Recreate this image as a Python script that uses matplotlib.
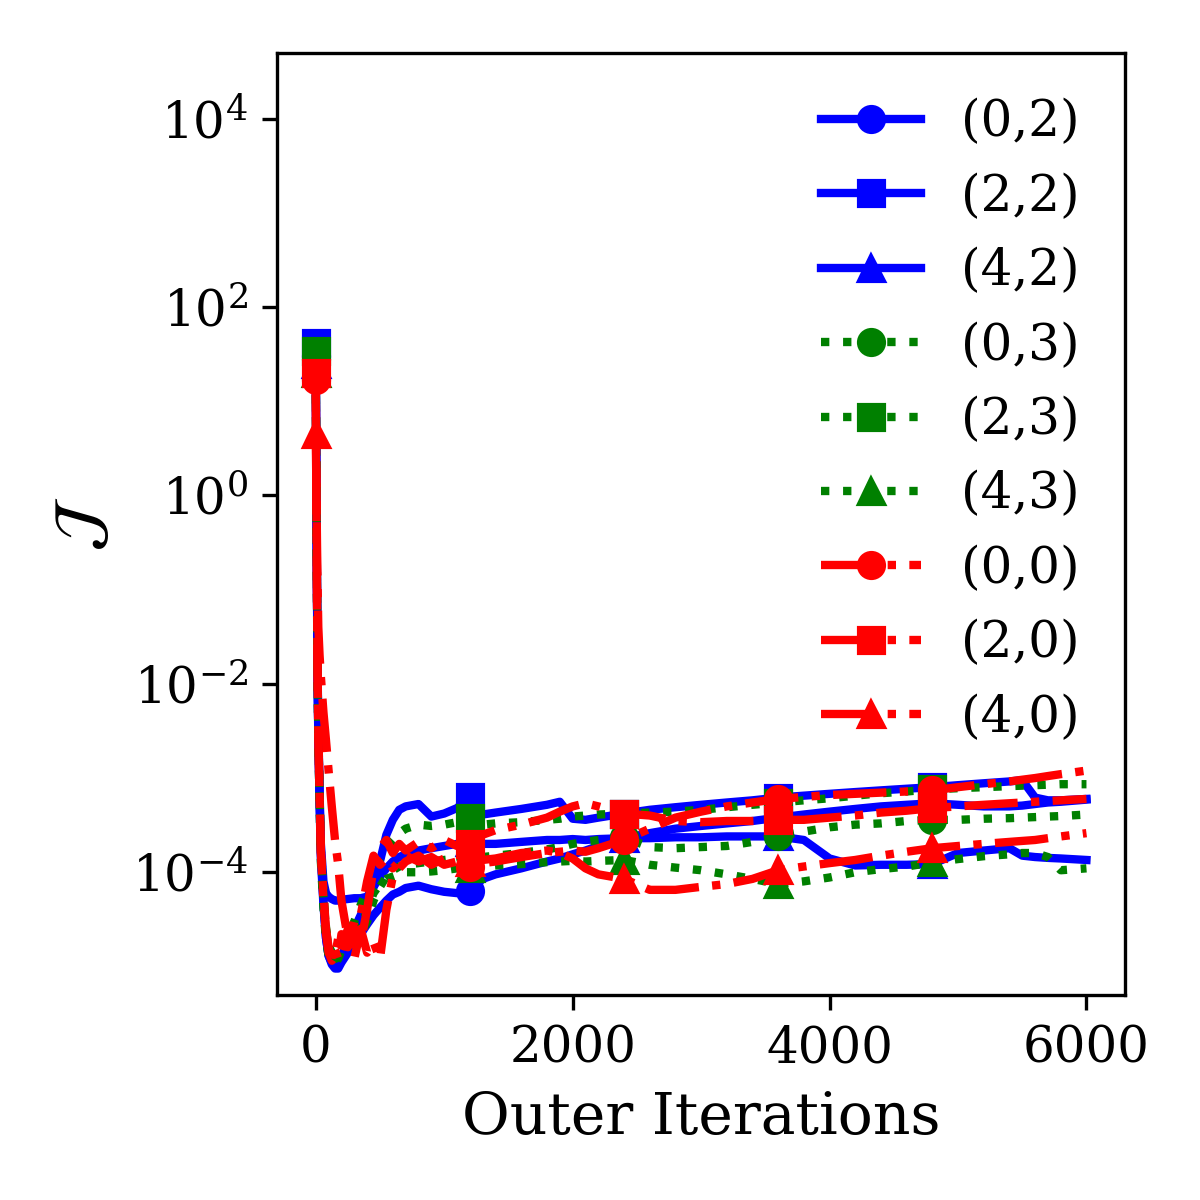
import matplotlib
matplotlib.use("Agg")
import matplotlib.pyplot as plt
from matplotlib.ticker import NullLocator

plt.rcParams['font.family'] = 'serif'
plt.rcParams['font.serif'] = ['DejaVu Serif']
plt.rcParams['mathtext.fontset'] = 'dejavuserif'

# outer iteration samples
iters = [0, 5, 10, 15, 20, 30, 40, 60, 80, 100,
         125, 150, 175, 200, 250, 300, 350, 400, 450, 500,
         550, 600, 650, 700, 800, 900, 1000, 1100, 1200, 1300,
         1400, 1600, 1800, 1900, 2000, 2100, 2200, 2400, 2600, 2800,
         3000, 3200, 3400, 3600, 3800, 4000, 4200, 4400, 4600, 4800,
         5000, 5200, 5400, 5500, 5600, 5700, 5800, 6000]
marker_iters = [0, 1200, 2400, 3600, 4800]

j02 = [30, 1.2, 9e-2, 1.1e-2, 3e-3, 6e-4, 1.6e-4, 5e-5, 2e-5, 1.3e-5,
       1.05e-5, 9.5e-6, 9.5e-6, 1.1e-5, 1.4e-5, 1.8e-5, 2.2e-5, 2.8e-5, 3.5e-5, 4.2e-5,
       5e-5, 5.8e-5, 6.2e-5, 6.8e-5, 7.2e-5, 6.6e-5, 6.2e-5, 6e-5, 6.4e-5, 8.5e-5,
       9.5e-5, 1.1e-4, 1.3e-4, 1.4e-4, 1.55e-4, 1.7e-4, 1.9e-4, 2.3e-4, 2.6e-4, 2.9e-4,
       3.1e-4, 3.3e-4, 3.5e-4, 3.8e-4, 4.1e-4, 4.4e-4, 4.7e-4, 5e-4, 5.2e-4, 5.4e-4,
       5.2e-4, 5.0e-4, 5.0e-4, 5.1e-4, 5.3e-4, 5.5e-4, 5.6e-4, 5.9e-4]
j22 = [42, 1.5, 1e-1, 1.2e-2, 3.5e-3, 7e-4, 2e-4, 8e-5, 6e-5, 5.5e-5,
       5.2e-5, 5e-5, 5e-5, 5.1e-5, 5.2e-5, 5.3e-5, 5.3e-5, 5.5e-5, 7e-5, 1.3e-4,
       2.5e-4, 3.6e-4, 4.6e-4, 5.0e-4, 5.3e-4, 3.9e-4, 4.2e-4, 4.8e-4, 6.3e-4, 4.1e-4,
       4.3e-4, 4.7e-4, 5.2e-4, 5.6e-4, 3.7e-4, 3.6e-4, 3.8e-4, 4.2e-4, 4.6e-4, 4.9e-4,
       5.2e-4, 5.5e-4, 5.8e-4, 6.2e-4, 6.5e-4, 6.8e-4, 7.1e-4, 7.4e-4, 7.7e-4, 8.0e-4,
       8.4e-4, 8.8e-4, 9.2e-4, 9.5e-4, 6.2e-4, 5.8e-4, 5.8e-4, 6.0e-4]
j42 = [25, 1.1, 8e-2, 1e-2, 2.8e-3, 5.5e-4, 1.4e-4, 4.5e-5, 2e-5, 1.3e-5,
       1.1e-5, 1.05e-5, 1.1e-5, 1.3e-5, 1.8e-5, 2.5e-5, 3.5e-5, 5e-5, 7e-5, 9e-5,
       1.1e-4, 1.3e-4, 1.45e-4, 1.55e-4, 1.7e-4, 1.8e-4, 1.9e-4, 2e-4, 2.1e-4, 2.0e-4,
       2.0e-4, 2.1e-4, 2.2e-4, 2.2e-4, 2.25e-4, 2.2e-4, 2.25e-4, 2.3e-4, 2.3e-4, 2.35e-4,
       2.35e-4, 2.4e-4, 2.4e-4, 2.4e-4, 2.2e-4, 1.4e-4, 1.18e-4, 1.2e-4, 1.2e-4, 1.22e-4,
       1.6e-4, 1.7e-4, 1.8e-4, 1.5e-4, 1.45e-4, 1.42e-4, 1.4e-4, 1.35e-4]
j03 = [28, 1.2, 9e-2, 1.1e-2, 3.2e-3, 6.5e-4, 1.7e-4, 5.5e-5, 2.4e-5, 1.6e-5,
       1.3e-5, 1.2e-5, 1.25e-5, 1.4e-5, 2e-5, 2.8e-5, 2.2e-5, 3e-5, 5e-5, 7e-5,
       9e-5, 1.05e-4, 1.15e-4, 1.2e-4, 1.25e-4, 1.3e-4, 1.35e-4, 1.4e-4, 1.5e-4, 1.45e-4,
       1.5e-4, 1.6e-4, 1.75e-4, 1.85e-4, 2e-4, 2.1e-4, 2.2e-4, 2.35e-4, 1.85e-4, 1.8e-4,
       1.85e-4, 1.9e-4, 2.1e-4, 2.4e-4, 2.7e-4, 3e-4, 3.2e-4, 3.3e-4, 3.5e-4, 3.6e-4,
       3.6e-4, 3.7e-4, 3.75e-4, 3.8e-4, 3.85e-4, 3.9e-4, 3.95e-4, 4.1e-4]
j23 = [34, 1.3, 1e-1, 1.2e-2, 3.4e-3, 7e-4, 1.8e-4, 6e-5, 2.6e-5, 1.7e-5,
       1.4e-5, 1.3e-5, 1.4e-5, 1.6e-5, 2.2e-5, 3e-5, 4.5e-5, 6.5e-5, 1e-4, 1.4e-4,
       1.8e-4, 2.2e-4, 2.6e-4, 2.9e-4, 3.2e-4, 3.1e-4, 3.2e-4, 3.4e-4, 3.8e-4, 3.2e-4,
       3.3e-4, 3.4e-4, 3.6e-4, 3.7e-4, 3.9e-4, 4e-4, 4.1e-4, 4.2e-4, 4.3e-4, 4.4e-4,
       4.6e-4, 4.9e-4, 5.2e-4, 5.5e-4, 5.8e-4, 6.1e-4, 6.5e-4, 6.9e-4, 7.2e-4, 7.6e-4,
       7.8e-4, 8.0e-4, 8.2e-4, 8.3e-4, 8.4e-4, 8.5e-4, 8.6e-4, 8.6e-4]
j43 = [20, 1.0, 7e-2, 9e-3, 2.6e-3, 5e-4, 1.3e-4, 4.2e-5, 1.9e-5, 1.3e-5,
       1.15e-5, 1.1e-5, 1.2e-5, 1.5e-5, 2.2e-5, 1.8e-5, 2.5e-5, 4e-5, 6e-5, 7.5e-5,
       8.5e-5, 9e-5, 9.5e-5, 1e-4, 1e-4, 1.02e-4, 1.05e-4, 1.1e-4, 1.12e-4, 1.15e-4,
       1.18e-4, 1.22e-4, 1.28e-4, 1.3e-4, 1.32e-4, 1.3e-4, 1.32e-4, 1.35e-4, 1.2e-4, 1.12e-4,
       1.05e-4, 9.5e-5, 8.5e-5, 7.5e-5, 8e-5, 8.8e-5, 1.0e-4, 1.08e-4, 1.15e-4, 1.27e-4,
       1.38e-4, 1.48e-4, 1.55e-4, 1.6e-4, 1.6e-4, 1.45e-4, 1.05e-4, 1.1e-4]
j00 = [17, 1.0, 8e-2, 1e-2, 3e-3, 6e-4, 1.6e-4, 5e-5, 2.2e-5, 1.4e-5,
       1.15e-5, 1.3e-5, 2e-5, 1.5e-5, 2.5e-5, 1.8e-5, 3.5e-5, 8e-5, 1.5e-4, 1.2e-4,
       1.4e-4, 1.1e-4, 1.3e-4, 1.5e-4, 1.3e-4, 1.45e-4, 1.2e-4, 1.3e-4, 1.15e-4, 1.25e-4,
       1.3e-4, 1.45e-4, 1.6e-4, 1.65e-4, 1.7e-4, 1.65e-4, 1.8e-4, 2.2e-4, 2.9e-4, 3.8e-4,
       4.4e-4, 5.0e-4, 5.5e-4, 6.0e-4, 6.3e-4, 6.6e-4, 6.8e-4, 7.0e-4, 7.2e-4, 7.4e-4,
       8.0e-4, 8.6e-4, 9.2e-4, 9.6e-4, 1.0e-3, 1.05e-3, 1.1e-3, 1.2e-3]
j20 = [20, 1.1, 9e-2, 1.1e-2, 3.2e-3, 6.5e-4, 1.7e-4, 6e-5, 2.5e-5, 1.6e-5,
       1.2e-5, 1.5e-5, 1.2e-5, 2.2e-5, 1.6e-5, 3e-5, 1.8e-5, 4e-5, 1.1e-4, 1.8e-4,
       2.2e-4, 1.6e-4, 2e-4, 1.7e-4, 2.1e-4, 1.8e-4, 2.2e-4, 1.9e-4, 2e-4, 2.5e-4,
       2.8e-4, 3.2e-4, 3.8e-4, 4.4e-4, 5.0e-4, 5.4e-4, 5.0e-4, 4.2e-4, 4.0e-4, 3.5e-4,
       3.4e-4, 3.5e-4, 3.5e-4, 3.6e-4, 3.6e-4, 3.8e-4, 4.0e-4, 4.3e-4, 4.5e-4, 4.8e-4,
       5.0e-4, 5.2e-4, 5.4e-4, 5.5e-4, 5.6e-4, 5.7e-4, 5.8e-4, 6.0e-4]
j40 = [4.5, 1.2, 3e-1, 1e-1, 4e-2, 2e-2, 1.2e-2, 5e-3, 2.5e-3, 1.2e-3,
       5e-4, 2.2e-4, 1.2e-4, 5e-5, 2e-5, 1.2e-5, 2.5e-5, 1.4e-5, 1.8e-5, 1.2e-5,
       4e-5, 9e-5, 1.1e-4, 1.3e-4, 1.5e-4, 1.2e-4, 1.4e-4, 1.3e-4, 1.3e-4, 1.35e-4,
       1.4e-4, 1.6e-4, 1.7e-4, 1.6e-4, 1.4e-4, 1.1e-4, 9.5e-5, 8.5e-5, 6.5e-5, 6.5e-5,
       7e-5, 7.5e-5, 8.5e-5, 1.05e-4, 1.15e-4, 1.25e-4, 1.35e-4, 1.5e-4, 1.65e-4, 1.8e-4,
       1.9e-4, 2.0e-4, 2.1e-4, 2.15e-4, 2.2e-4, 2.3e-4, 2.4e-4, 2.6e-4]

series = [
    ('(0,2)', j02, 'blue', '-', 'o'),
    ('(2,2)', j22, 'blue', '-', 's'),
    ('(4,2)', j42, 'blue', '-', '^'),
    ('(0,3)', j03, 'green', ':', 'o'),
    ('(2,3)', j23, 'green', ':', 's'),
    ('(4,3)', j43, 'green', ':', '^'),
    ('(0,0)', j00, 'red', '-.', 'o'),
    ('(2,0)', j20, 'red', '-.', 's'),
    ('(4,0)', j40, 'red', '-.', '^'),
]

mark_idx = [iters.index(m) for m in marker_iters]

fig, ax = plt.subplots(figsize=(4, 4), dpi=300)
for label, vals, col, ls, mk in series:
    ax.plot(iters, vals, color=col, linestyle=ls, marker=mk, markevery=mark_idx,
            linewidth=2, markersize=6, label=label)

ax.set_yscale('log')
ax.set_ylim(5e-6, 5e4)
ax.yaxis.set_minor_locator(NullLocator())
ax.set_xlabel('Outer Iterations', fontsize=14)
ax.set_ylabel(r'$\mathcal{J}$', fontsize=16)
ax.tick_params(labelsize=12)
ax.legend(loc='upper right', frameon=False, fontsize=12)
fig.subplots_adjust(left=0.231, right=0.9375, bottom=0.171, top=0.956)
fig.savefig('out.png', dpi=300)
